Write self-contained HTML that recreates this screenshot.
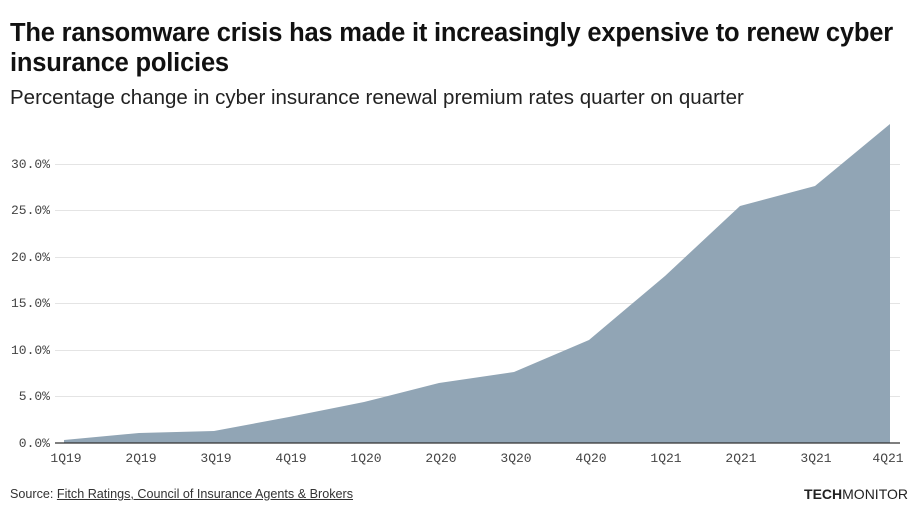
<!DOCTYPE html>
<html><head><style>
body{margin:0;width:920px;height:515px;background:#fff;font-family:"Liberation Sans",sans-serif;position:relative;overflow:hidden}
.t{position:absolute;left:10px;top:18px;font-size:25.5px;font-weight:bold;color:#111;line-height:30px;width:910px;letter-spacing:-0.2px}
.s{position:absolute;left:10px;top:86px;font-size:20.5px;color:#222}
.src{position:absolute;left:10px;top:487px;font-size:12.6px;color:#333}
.src u{text-decoration:underline}
.logo{position:absolute;right:12px;top:486px;font-size:14px;color:#222}
</style></head><body>
<div class="t">The ransomware crisis has made it increasingly expensive to renew cyber insurance policies</div>
<div class="s">Percentage change in cyber insurance renewal premium rates quarter on quarter</div>
<svg width="920" height="515" style="position:absolute;left:0;top:0">
<g stroke="#e4e4e4" stroke-width="1">
<line x1="55" x2="900" y1="164.5" y2="164.5"/><line x1="55" x2="900" y1="210.5" y2="210.5"/>
<line x1="55" x2="900" y1="257.5" y2="257.5"/><line x1="55" x2="900" y1="303.5" y2="303.5"/>
<line x1="55" x2="900" y1="350.5" y2="350.5"/><line x1="55" x2="900" y1="396.5" y2="396.5"/>
</g>
<polygon fill="#91a5b5" points="64,443 64,440 139,433 214,431 289,417 364,402 439,383 514,372 589,340 665,276 740,206 815,186 890,124 890,443"/>
<line x1="55" x2="900" y1="443" y2="443" stroke="#333" stroke-width="1.2"/>
<g font-family="Liberation Mono,monospace" font-size="13" fill="#444" text-anchor="end">
<text x="50" y="168">30.0%</text><text x="50" y="214">25.0%</text><text x="50" y="261">20.0%</text>
<text x="50" y="307">15.0%</text><text x="50" y="354">10.0%</text><text x="50" y="400">5.0%</text><text x="50" y="447">0.0%</text>
</g>
<g font-family="Liberation Mono,monospace" font-size="13" fill="#444" text-anchor="middle">
<text x="66" y="462">1Q19</text><text x="141" y="462">2Q19</text><text x="216" y="462">3Q19</text><text x="291" y="462">4Q19</text>
<text x="366" y="462">1Q20</text><text x="441" y="462">2Q20</text><text x="516" y="462">3Q20</text><text x="591" y="462">4Q20</text>
<text x="666" y="462">1Q21</text><text x="741" y="462">2Q21</text><text x="816" y="462">3Q21</text><text x="888" y="462">4Q21</text>
</g>
</svg>
<div class="src">Source: <u>Fitch Ratings, Council of Insurance Agents &amp; Brokers</u></div>
<div class="logo"><b>TECH</b>MONITOR</div>
</body></html>
